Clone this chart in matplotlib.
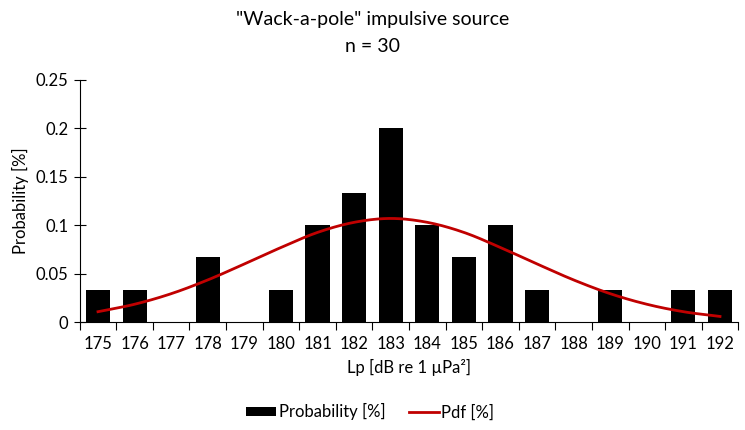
import matplotlib
matplotlib.use("Agg")
import matplotlib.pyplot as plt
import numpy as np

categories = [str(c) for c in range(175, 193)]
probability = [0.0333, 0.0333, 0.0, 0.0667, 0.0, 0.0333, 0.1, 0.1333, 0.2,
               0.1, 0.0667, 0.1, 0.0333, 0.0, 0.0333, 0.0, 0.0333, 0.0333]
pdf = [0.0107, 0.0184, 0.0293, 0.0435, 0.0600, 0.0770, 0.0926, 0.1030, 0.1070,
       0.1030, 0.0926, 0.0770, 0.0600, 0.0435, 0.0293, 0.0184, 0.0107, 0.0058]
yticks = [0, 0.05, 0.1, 0.15, 0.2, 0.25]
ytick_labels = ["0", "0.05", "0.1", "0.15", "0.2", "0.25"]

plt.rcParams['font.family'] = ['Lato', 'DejaVu Sans']

fig = plt.figure(figsize=(7.45, 4.3), dpi=100)
ax = fig.add_axes([0.107, 0.251, 0.884, 0.563])

x = np.arange(len(categories))
bars = ax.bar(x, probability, width=0.66, color='black', label='Probability [%]', zorder=2)

# Catmull-Rom smoothing for display (Excel-style smoothed line)
def smooth(xs, ys, n=20):
    xs = np.asarray(xs, float); ys = np.asarray(ys, float)
    px = np.concatenate([[2*xs[0]-xs[1]], xs, [2*xs[-1]-xs[-2]]])
    py = np.concatenate([[2*ys[0]-ys[1]], ys, [2*ys[-1]-ys[-2]]])
    outx, outy = [], []
    for i in range(1, len(px)-2):
        t = np.linspace(0, 1, n, endpoint=False)
        for arr, out in ((px, outx), (py, outy)):
            p0, p1, p2, p3 = arr[i-1], arr[i], arr[i+1], arr[i+2]
            out.extend(0.5*((2*p1) + (-p0+p2)*t + (2*p0-5*p1+4*p2-p3)*t**2 + (-p0+3*p1-3*p2+p3)*t**3))
    outx.append(xs[-1]); outy.append(ys[-1])
    return np.array(outx), np.array(outy)

sx, sy = smooth(x, pdf)
line, = ax.plot(sx, sy, color='#C00000', lw=2.0, label='Pdf [%]', zorder=3)

ax.set_xlim(-0.5, len(categories)-0.5)
ax.set_ylim(0, 0.25)
ax.set_yticks(yticks)
ax.set_yticklabels(ytick_labels)
ax.set_xticks(x)
ax.set_xticklabels(categories)
ax.set_xticks(np.arange(-0.5, len(categories), 1), minor=True)
ax.tick_params(axis='x', which='major', length=0, labelsize=12, pad=10)
ax.tick_params(axis='x', which='minor', length=6, direction='out', width=0.8)
ax.tick_params(axis='y', length=8, direction='inout', width=0.8, labelsize=12, pad=4)

for s in ['top', 'right']:
    ax.spines[s].set_visible(False)
ax.spines['left'].set_linewidth(0.8)
ax.spines['bottom'].set_linewidth(0.8)

ax.set_xlabel('Lp [dB re 1 µPa²]', fontsize=12, labelpad=5)
ax.set_ylabel('Probability [%]', fontsize=12, labelpad=5)

fig.text(0.5, 0.955, '"Wack-a-pole" impulsive source', ha='center', va='center', fontsize=14)
fig.text(0.5, 0.893, 'n = 30', ha='center', va='center', fontsize=14)

fig.legend([bars, line], ['Probability [%]', 'Pdf [%]'], loc='center',
           bbox_to_anchor=(0.497, 0.042), ncol=2, frameon=False,
           fontsize=12, handlelength=1.8, handleheight=0.5, columnspacing=1.4, handletextpad=0.15)

fig.savefig('out.png', dpi=100)
